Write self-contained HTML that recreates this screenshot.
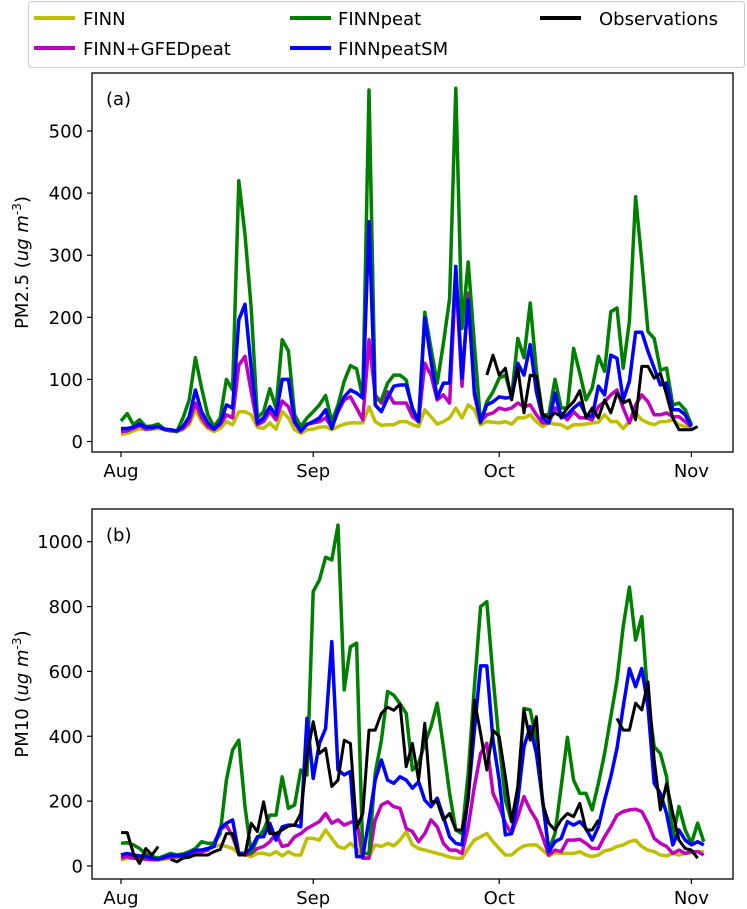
<!DOCTYPE html>
<html><head><meta charset="utf-8"><style>
html,body{margin:0;padding:0;background:#fff;}
svg{display:block;font-family:"DejaVu Sans","Liberation Sans",sans-serif;}
</style></head><body>
<svg id="chart" width="747" height="909" viewBox="0 0 747 909" xmlns="http://www.w3.org/2000/svg">
<g>
<rect x="28.5" y="1.5" width="716" height="66" rx="3" fill="#fff" stroke="#ccc"/>
<g><line x1="34" y1="18" x2="75" y2="18" stroke="#bfbf00" stroke-width="4"/><text x="83" y="25" font-size="18">FINN</text></g>
<g><line x1="290" y1="18" x2="331" y2="18" stroke="#008000" stroke-width="4"/><text x="338" y="25" font-size="18">FINNpeat</text></g>
<g><line x1="540" y1="18" x2="581" y2="18" stroke="#000" stroke-width="4"/><text x="599" y="25" font-size="18">Observations</text></g>
<g><line x1="34" y1="48" x2="75" y2="48" stroke="#bf00bf" stroke-width="4"/><text x="83" y="55" font-size="18">FINN+GFEDpeat</text></g>
<g><line x1="290" y1="48" x2="331" y2="48" stroke="#0000ff" stroke-width="4"/><text x="338" y="55" font-size="18">FINNpeatSM</text></g>
</g>
<g id="panelA"></g>
<g id="panelB"></g>
</svg>
<script>
// x axis (days since Aug 1)
const monthLabels = ["Aug","Sep","Oct","Nov"];
const monthDays = [0,31,61,92];

// Panel (a) PM2.5
const aTicks = [0,100,200,300,400,500];
const aFINN = [11,13,17,21,19,20,21,19,17,16,19,27,51,32,21,16,21,32,27,48,48,43,23,21,30,20,48,38,19,13,19,20,23,24,19,24,28,30,30,30,56,32,26,27,27,32,32,27,24,51,40,28,32,38,54,38,59,51,27,32,31,30,32,28,38,38,43,32,24,30,28,27,21,27,27,28,30,31,43,32,32,21,32,46,35,30,27,32,32,35,27,24,21];
const aGFED = [16,17,21,26,20,21,24,19,17,17,21,32,62,38,24,19,27,43,38,123,137,80,27,32,48,35,65,56,30,16,28,30,32,38,23,48,67,72,54,35,164,75,62,80,62,62,62,40,32,126,107,67,75,62,268,89,239,75,32,43,46,54,51,54,62,56,59,43,30,30,54,46,35,48,38,38,35,56,64,75,83,54,30,59,75,64,43,43,46,40,40,32,24];
const aPEAT = [33,45,27,35,24,25,28,20,18,16,38,67,135,86,43,24,38,100,83,420,333,215,38,48,85,54,164,146,43,24,38,48,59,74,32,59,97,122,117,70,566,67,67,94,107,107,99,51,32,208,150,94,158,230,569,182,289,156,30,64,80,102,107,72,166,135,223,113,43,43,100,54,54,150,110,67,86,137,113,209,215,118,193,394,290,177,166,115,118,59,62,51,27];
const aPEATSM = [21,21,23,28,23,23,24,20,19,17,24,40,83,48,30,20,30,59,54,196,221,118,30,38,56,43,100,100,32,17,27,32,38,51,21,51,72,83,78,70,354,59,48,70,89,91,91,54,32,199,129,70,94,94,282,102,228,80,32,59,64,72,70,71,126,107,156,80,38,30,78,38,43,54,62,43,40,89,75,139,134,67,97,176,176,145,118,91,94,51,51,43,24];
const aOBS = [null,null,null,null,null,null,null,null,null,null,null,null,null,null,null,null,null,null,null,null,null,null,null,null,null,null,null,null,null,null,null,null,null,null,null,null,null,null,null,null,null,null,null,null,null,null,null,null,null,null,null,null,null,null,null,null,null,null,null,107,139,107,118,67,118,46,107,105,43,38,46,40,54,64,82,38,54,38,67,46,78,62,67,35,121,121,102,110,75,38,19,19,19,24];

// Panel (b) PM10
const bTicks = [0,200,400,600,800,1000];
const bFINN = [18,24,24,21,21,18,18,21,24,27,29,34,39,44,49,60,65,60,54,39,34,29,39,39,34,44,31,44,34,34,85,85,80,111,85,60,54,70,54,24,29,65,60,70,62,80,106,65,54,49,44,39,34,27,24,24,54,80,90,100,75,54,34,34,51,62,65,65,49,31,41,39,39,39,44,34,29,34,47,51,60,65,75,80,60,49,44,34,31,39,34,39,41,44,44];
const bGFED = [24,29,24,24,21,21,21,24,27,29,31,34,39,44,49,70,111,126,90,39,34,39,54,60,75,100,60,65,90,100,116,126,137,162,132,142,126,134,142,24,24,142,188,198,183,178,116,106,75,100,142,121,70,49,49,39,121,245,347,378,224,183,132,100,152,214,173,142,90,34,49,44,80,80,82,70,54,54,90,121,157,168,173,175,168,132,85,70,60,39,49,39,44,44,34];
const bPEAT = [70,72,65,54,37,29,24,31,39,34,37,44,54,75,70,70,100,265,358,388,183,39,85,111,157,157,275,178,188,296,281,846,882,952,944,1051,543,676,687,39,39,286,388,538,527,500,471,296,317,378,430,502,368,224,111,100,286,553,800,815,584,378,203,137,234,486,481,388,203,49,100,245,397,265,224,224,173,255,347,460,573,738,860,697,769,512,368,347,275,90,183,111,70,132,75];
const bPEATSM = [34,39,34,31,29,24,21,27,34,31,34,39,49,49,54,60,116,132,142,39,39,54,90,90,132,80,121,126,126,121,455,270,378,424,692,296,281,291,29,29,142,265,327,265,255,275,265,240,260,203,183,209,152,90,70,65,214,419,617,617,388,265,96,100,203,368,430,347,203,44,75,85,137,126,137,116,80,121,203,275,363,491,609,553,609,491,255,224,162,65,111,80,65,75,65];
const bOBS = [103,103,39,8,54,34,60,null,21,13,24,27,34,34,34,44,51,100,100,34,34,132,106,198,100,100,111,123,126,162,337,445,347,363,245,265,388,378,116,162,419,419,471,490,480,499,306,378,265,440,198,198,142,162,111,111,203,512,409,296,419,399,275,137,245,481,388,460,193,132,111,142,162,152,193,111,111,142,null,null,455,419,419,502,481,568,327,173,255,162,80,54,49,24];

const NS = "http://www.w3.org/2000/svg";
function mk(tag, attrs, parent){const e=document.createElementNS(NS,tag);for(const k in attrs)e.setAttribute(k,attrs[k]);parent.appendChild(e);return e;}
function xScale(d){return 121 + d*6.2;}

function drawPanel(g, cfg){
  const L=92,R=733,T=cfg.top,B=cfg.bottom;
  const y = v => cfg.y0 - v*cfg.k;
  cfg.series.forEach(s=>{
    let d="",pen=false;
    s.data.forEach((v,i)=>{
      if(v===null||v===undefined){pen=false;return;}
      d += (pen?"L":"M")+xScale(i).toFixed(1)+","+y(v).toFixed(1);
      pen=true;
    });
    const p=mk("path",{d:d,fill:"none",stroke:s.color,"stroke-width":s.w,"stroke-linejoin":"round"},g);
    
    
  });
  const frame=mk("rect",{x:L,y:T,width:R-L,height:B-T,fill:"none",stroke:"#000","stroke-width":1.3},g);
  
  
  cfg.ticks.forEach(t=>{
    const yy=y(t);
    mk("line",{x1:L-5,y1:yy,x2:L,y2:yy,stroke:"#000","stroke-width":1.2},g);
    const tx=mk("text",{x:L-9,y:yy+6.5,"font-size":18,"text-anchor":"end"},g);
    tx.textContent=t;
    
    
  });
  monthLabels.forEach((m,i)=>{
    const xx=xScale(monthDays[i]);
    mk("line",{x1:xx,y1:B,x2:xx,y2:B+5,stroke:"#000","stroke-width":1.2},g);
    const tx=mk("text",{x:xx,y:B+25,"font-size":18,"text-anchor":"middle"},g);
    tx.textContent=m;
    
    
  });
  const lab=mk("text",{x:106,y:T+32,"font-size":18},g);
  lab.textContent=cfg.tag;
  
  
  const cy=(T+B)/2;
  const yl=mk("text",{x:0,y:0,"font-size":18,"text-anchor":"middle",transform:"translate(28,"+cy+") rotate(-90)"},g);
  yl.innerHTML=cfg.ylab+' (<tspan font-style="italic">ug m</tspan><tspan font-size="12" dy="-7">-3</tspan><tspan dy="7">)</tspan>';
  
  
}

function seriesList(f,g,p,sm,o){
  return [
    {name:'line-finn',data:f,color:'#bfbf00',w:3.5},
    {name:'line-finn-gfedpeat',data:g,color:'#bf00bf',w:3.5},
    {name:'line-finnpeat',data:p,color:'#008000',w:3.5},
    {name:'line-finnpeatsm',data:sm,color:'#0000ff',w:3.5},
    {name:'line-observations',data:o,color:'#000',w:3}
  ];
}
drawPanel(document.getElementById('panelA'),{prefix:'panel-a',top:73,bottom:452,y0:441.5,k:0.621,ticks:aTicks,tag:'(a)',ylab:'PM2.5',series:seriesList(aFINN,aGFED,aPEAT,aPEATSM,aOBS)});
drawPanel(document.getElementById('panelB'),{prefix:'panel-b',top:509,bottom:879,y0:866,k:0.3243,ticks:bTicks,tag:'(b)',ylab:'PM10',series:seriesList(bFINN,bGFED,bPEAT,bPEATSM,bOBS)});
</script>
</body></html>
